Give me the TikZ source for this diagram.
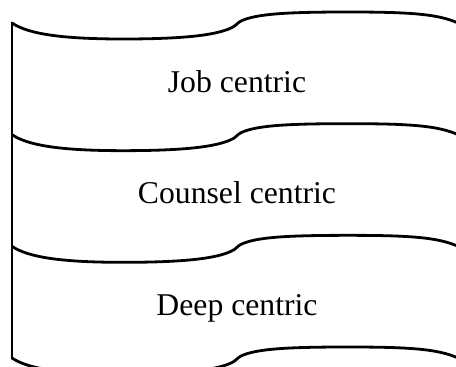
\documentclass[tikz,border=0pt]{standalone}
\usepackage{fontspec}
\setmainfont{Liberation Serif}
\begin{document}
\begin{tikzpicture}[x=1pt,y=-1pt,
  edge/.style={line width=2.8pt,line join=round,line cap=round,black},
  label/.style={anchor=base,inner sep=0pt,font=\fontsize{31.7}{38}\selectfont}]
  \useasboundingbox (0,0) rectangle (456,367);
  \clip (0,0) rectangle (456,367);
  % left edge of the stack
  \coordinate (top) at (12,23);
  \coordinate (bottom) at (12,358);
  \draw[edge] (top) -- (bottom);
  % wavy separators, one every 111.67 units
  \foreach \dy in {0,111.67,223.33,335}{
    \draw[edge] (12,23+\dy)
      .. controls (28,34+\dy) and (62,39+\dy) .. (123,39+\dy)
      .. controls (185,39+\dy) and (216,35+\dy) .. (231,28+\dy)
      .. controls (236,26+\dy) and (237,23+\dy) .. (241,21+\dy)
      .. controls (256,14+\dy) and (285,12+\dy) .. (348,12+\dy)
      .. controls (410,12+\dy) and (438,14+\dy) .. (458,23+\dy);
  }
  % layer labels
  \node[label] (job) at (237,92) {Job centric};
  \node[label] (counsel) at (237,203) {Counsel centric};
  \node[label] (deep) at (237,315) {Deep centric};
\end{tikzpicture}
\end{document}
